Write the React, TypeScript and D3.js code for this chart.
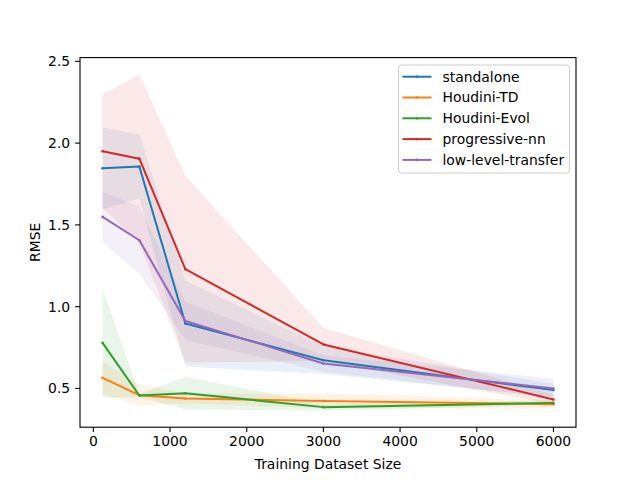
import * as d3 from 'd3'

const sizes = [120, 600, 1200, 3000, 6000]
const seriesNames = ['standalone', 'Houdini-TD', 'Houdini-Evol', 'progressive-nn', 'low-level-transfer']
const colors = ['#1f77b4', '#ff7f0e', '#2ca02c', '#d62728', '#9467bd']

// mean RMSE per dataset size
const standalone = [1.846, 1.857, 0.897, 0.673, 0.49]
const houdiniTD = [0.565, 0.459, 0.439, 0.424, 0.404]
const houdiniEvol = [0.779, 0.457, 0.471, 0.386, 0.412]
const progressiveNN = [1.95, 1.905, 1.229, 0.769, 0.433]
const lowLevel = [1.549, 1.406, 0.913, 0.653, 0.5]

// std (shaded band is mean +/- std)
const standaloneStd = [0.25, 0.195, 0.263, 0.085, 0.04]
const houdiniTDStd = [0.1, 0.065, 0.03, 0.045, 0.026]
const houdiniEvolStd = [0.334, 0.01, 0.1, 0.02, 0.015]
const progressiveNNStd = [0.345, 0.515, 0.57, 0.1, 0.03]
const lowLevelStd = [0.155, 0.205, 0.117, 0.05, 0.06]

const xTicks = [0, 1000, 2000, 3000, 4000, 5000, 6000]
const yTicks = [0.5, 1.0, 1.5, 2.0, 2.5]

const means = [standalone, houdiniTD, houdiniEvol, progressiveNN, lowLevel]
const stds = [standaloneStd, houdiniTDStd, houdiniEvolStd, progressiveNNStd, lowLevelStd]

const width = 640
const height = 480
const margin = { left: 80, right: 64, top: 57.6, bottom: 52.8 }
const font = 'DejaVu Sans, sans-serif'

export default function App() {
  const x0 = d3.min(sizes)!
  const x1 = d3.max(sizes)!
  const xPad = (x1 - x0) * 0.05
  const x = d3.scaleLinear()
    .domain([x0 - xPad, x1 + xPad])
    .range([margin.left, width - margin.right])

  const lows = means.flatMap((m, i) => m.map((v, j) => v - stds[i][j]))
  const highs = means.flatMap((m, i) => m.map((v, j) => v + stds[i][j]))
  const y0 = d3.min(lows)!
  const y1 = d3.max(highs)!
  const yPad = (y1 - y0) * 0.05
  const y = d3.scaleLinear()
    .domain([y0 - yPad, y1 + yPad])
    .range([height - margin.bottom, margin.top])

  const line = d3.line<number>()
    .x((_, i) => x(sizes[i]))
    .y(d => y(d))

  const band = (m: number[], s: number[]) =>
    d3.area<number>()
      .x((_, i) => x(sizes[i]))
      .y0((_, i) => y(m[i] - s[i]))
      .y1((_, i) => y(m[i] + s[i]))(m)!

  const plotBottom = height - margin.bottom
  const plotRight = width - margin.right

  return (
    <div style={{ position: 'absolute', left: 0, top: 0 }}>
      <svg width={width} height={height} style={{ display: 'block', background: '#fff' }} fontFamily={font}>
        {/* bands */}
        {means.map((m, i) => (
          <path key={'b' + i} d={band(m, stds[i])} fill={colors[i]} fillOpacity={0.1} />
        ))}

        {/* lines */}
        {means.map((m, i) => (
          <g key={'l' + i}>
            <path d={line(m)!} fill="none" stroke={colors[i]} strokeWidth={2} strokeLinejoin="round" />
            {m.map((v, j) => (
              <circle key={j} cx={x(sizes[j])} cy={y(v)} r={1.3} fill={colors[i]} />
            ))}
          </g>
        ))}

        {/* frame */}
        <rect x={margin.left} y={margin.top} width={plotRight - margin.left} height={plotBottom - margin.top}
          fill="none" stroke="#000" strokeWidth={1.1} />

        {/* x axis */}
        {xTicks.map(t => (
          <g key={'x' + t} transform={`translate(${x(t)},${plotBottom})`}>
            <line y1={0} y2={4.9} stroke="#000" strokeWidth={1.1} />
            <text y={19} textAnchor="middle" fontSize={13.9} fill="#000">{t}</text>
          </g>
        ))}
        <text x={(margin.left + plotRight) / 2} y={469} textAnchor="middle" fontSize={13.9}>Training Dataset Size</text>

        {/* y axis */}
        {yTicks.map(t => (
          <g key={'y' + t} transform={`translate(${margin.left},${y(t)})`}>
            <line x1={0} x2={-4.9} stroke="#000" strokeWidth={1.1} />
            <text x={-9.8} dy="0.35em" textAnchor="end" fontSize={13.9} fill="#000">{t.toFixed(1)}</text>
          </g>
        ))}
        <text transform={`translate(40,${(margin.top + plotBottom) / 2}) rotate(-90)`} textAnchor="middle" fontSize={13.9}>RMSE</text>

        {/* legend */}
        <g>
          <rect x={398.5} y={65} width={171} height={108} rx={3} fill="#fff" fillOpacity={0.8} stroke="#ccc" strokeWidth={1} />
          {seriesNames.map((name, i) => {
            const cy = 76.7 + i * 20.8
            return (
              <g key={name}>
                <line x1={402.5} x2={431.5} y1={cy} y2={cy} stroke={colors[i]} strokeWidth={2} />
                <circle cx={417} cy={cy} r={1.3} fill={colors[i]} />
                <text x={442.5} y={cy} dy="0.35em" fontSize={13.9}>{name}</text>
              </g>
            )
          })}
        </g>
      </svg>
    </div>
  )
}
